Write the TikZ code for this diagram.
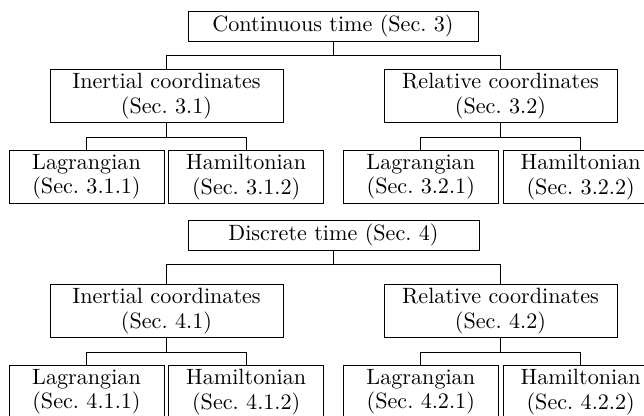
\documentclass[tikz,border=0pt]{standalone}
\usetikzlibrary{calc}
\begin{document}
\begin{tikzpicture}[x=0.463pt,y=-0.463pt,
  box/.style={draw, line width=0.45pt, inner xsep=2pt, inner ysep=0pt,
    align=center, font=\fontsize{10.25}{11.2}\selectfont},
  rootbox/.style={box, minimum width=290*0.463pt, minimum height=30*0.463pt},
  midbox/.style={box, minimum width=233*0.463pt, minimum height=53*0.463pt},
  leafbox/.style={box, minimum width=155*0.463pt, minimum height=52.6*0.463pt},
  link/.style={draw, line width=0.45pt}]
\useasboundingbox (0,0) rectangle (644,415);
\clip (0,0) rectangle (644,415);

% ---- continuous time ----
\node[rootbox] (ct) at (333,26) {Continuous time (Sec.~3)};
\node[midbox] (ci) at (166.5,96) {Inertial coordinates\\(Sec.~3.1)};
\node[midbox] (cr) at (500.5,96) {Relative coordinates\\(Sec.~3.2)};
\node[leafbox] (cil) at (86.5,177) {Lagrangian\\(Sec.~3.1.1)};
\node[leafbox] (cih) at (246.2,177) {Hamiltonian\\(Sec.~3.1.2)};
\node[leafbox] (crl) at (420.8,177) {Lagrangian\\(Sec.~3.2.1)};
\node[leafbox] (crh) at (580.7,177) {Hamiltonian\\(Sec.~3.2.2)};

\coordinate (cb) at ($(ct.south)+(0,14)$);
\coordinate (cib) at ($(ci.south)+(0,14)$);
\coordinate (crb) at ($(cr.south)+(0,14)$);
\path[link] (ct.south) -- (cb) -| (ci.north);
\path[link] (cb) -| (cr.north);
\path[link] (ci.south) -- (cib) -| (cil.north);
\path[link] (cib) -| (cih.north);
\path[link] (cr.south) -- (crb) -| (crl.north);
\path[link] (crb) -| (crh.north);

% ---- discrete time ----
\node[rootbox, minimum width=291*0.463pt, minimum height=29.5*0.463pt] (dt) at (333.5,235.4) {Discrete time (Sec.~4)};
\node[midbox] (di) at (166.5,311) {Inertial coordinates\\(Sec.~4.1)};
\node[midbox] (dr) at (500.5,311) {Relative coordinates\\(Sec.~4.2)};
\node[leafbox] (dil) at (86.5,392) {Lagrangian\\(Sec.~4.1.1)};
\node[leafbox] (dih) at (246.2,392) {Hamiltonian\\(Sec.~4.1.2)};
\node[leafbox] (drl) at (420.8,392) {Lagrangian\\(Sec.~4.2.1)};
\node[leafbox] (drh) at (580.7,392) {Hamiltonian\\(Sec.~4.2.2)};

\coordinate (db) at ($(dt.south)+(0,14)$);
\coordinate (dib) at ($(di.south)+(0,14)$);
\coordinate (drb) at ($(dr.south)+(0,14)$);
\path[link] (dt.south) -- (db) -| (di.north);
\path[link] (db) -| (dr.north);
\path[link] (di.south) -- (dib) -| (dil.north);
\path[link] (dib) -| (dih.north);
\path[link] (dr.south) -- (drb) -| (drl.north);
\path[link] (drb) -| (drh.north);
\end{tikzpicture}
\end{document}
